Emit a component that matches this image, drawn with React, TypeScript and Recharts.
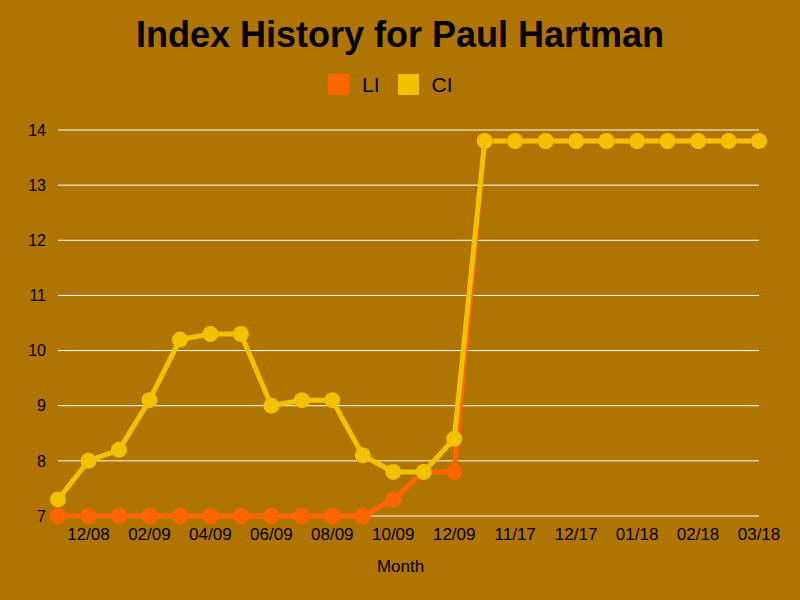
import { CartesianGrid, Line, LineChart, XAxis, YAxis } from 'recharts'

const months = [
  '11/08', '12/08', '01/09', '02/09', '03/09', '04/09', '05/09', '06/09',
  '07/09', '08/09', '09/09', '10/09', '11/09', '12/09', '10/17', '11/17',
  '11/17', '12/17', '12/17', '01/18', '01/18', '02/18', '02/18', '03/18',
]

const liValues = [
  7, 7, 7, 7, 7, 7, 7, 7, 7, 7, 7, 7.3, 7.8, 7.8,
  13.8, 13.8, 13.8, 13.8, 13.8, 13.8, 13.8, 13.8, 13.8, 13.8,
]

const ciValues = [
  7.3, 8.0, 8.2, 9.1, 10.2, 10.3, 10.3, 9.0, 9.1, 9.1, 8.1, 7.8, 7.8, 8.4,
  13.8, 13.8, 13.8, 13.8, 13.8, 13.8, 13.8, 13.8, 13.8, 13.8,
]

const yTicks = [7, 8, 9, 10, 11, 12, 13, 14]

const series = [
  { key: 'LI', color: '#ff6600' },
  { key: 'CI', color: '#f2c200' },
]

const data = months.map((month, i) => ({
  month,
  LI: liValues[i],
  CI: ciValues[i],
}))

const font = '"Liberation Sans", Arial, sans-serif'

// legend drawn outside the chart so it doesn't eat into the plot area
function ChartLegend() {
  return (
    <div style={{ position: 'absolute', left: 328, top: 74, display: 'flex', height: 21 }}>
      {series.map((s) => (
        <div key={s.key} style={{ display: 'flex', alignItems: 'center', marginRight: 18 }}>
          <span style={{ width: 21, height: 21, background: s.color, display: 'inline-block', marginRight: 13 }} />
          <span style={{ fontSize: 21, lineHeight: '21px', color: '#000' }}>{s.key}</span>
        </div>
      ))}
    </div>
  )
}

export default function App() {
  return (
    <div
      style={{
        position: 'absolute',
        left: 0,
        top: 0,
        width: 800,
        height: 600,
        background: '#b07400',
        fontFamily: font,
      }}
    >
      <div
        style={{
          position: 'absolute',
          top: 14,
          width: 800,
          textAlign: 'center',
          fontSize: 36,
          fontWeight: 'bold',
          color: '#000',
        }}
      >
        Index History for Paul Hartman
      </div>
      <ChartLegend />
      <LineChart
        width={800}
        height={600}
        data={data}
        margin={{ top: 130, right: 41, bottom: 54, left: 8 }}
      >
        <CartesianGrid vertical={false} stroke='#ffffff' strokeWidth={1} />
        <XAxis
          dataKey='month'
          height={30}
          axisLine={false}
          tickLine={false}
          interval={0}
          tickMargin={6}
          tick={{ fill: '#000', fontSize: 17, fontFamily: font }}
          tickFormatter={(v, i) => (i % 2 === 1 ? v : '')}
          label={{ value: 'Month', position: 'insideBottom', offset: -26, dx: -8, fill: '#000', fontSize: 17, fontFamily: font }}
        />
        <YAxis
          domain={[7, 14]}
          ticks={yTicks}
          width={50}
          axisLine={false}
          tickLine={false}
          tickMargin={6}
          tick={{ fill: '#000', fontSize: 16, fontFamily: font }}
        />
        {series.map((s) => (
          <Line
            key={s.key}
            dataKey={s.key}
            stroke={s.color}
            strokeWidth={5}
            dot={{ r: 8, fill: s.color, stroke: 'none' }}
            activeDot={false}
            isAnimationActive={false}
          />
        ))}
      </LineChart>
    </div>
  )
}
